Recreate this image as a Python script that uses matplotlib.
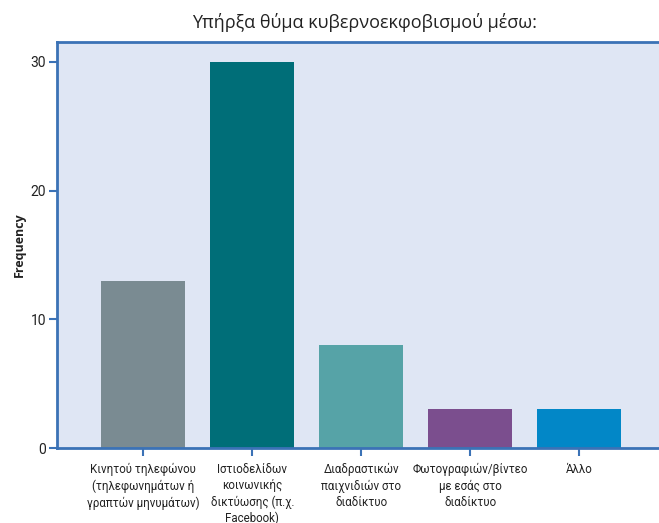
import matplotlib.pyplot as plt
import numpy as np

# data
categories = ["Κινητού τηλεφώνου\n(τηλεφωνημάτων ή\nγραπτών μηνυμάτων)",
              "Ιστιοδελίδων\nκοινωνικής\nδικτύωσης (π.χ.\nFacebook)",
              "Διαδραστικών\nπαιχνιδιών στο\nδιαδίκτυο",
              "Φωτογραφιών/βίντεο\nμε εσάς στο\nδιαδίκτυο",
              "Άλλο"]
counts = [13, 30, 8, 3, 3]
bar_colors = ["#7a8b92", "#006e78", "#56a3a7", "#7b4e8e", "#0287c7"]
yticks = [0, 10, 20, 30]

spine_col = "#3b72b6"
lbl_font = ['Roboto', 'DejaVu Sans']

fig = plt.figure(figsize=(6.59, 5.23), dpi=100)
ax = fig.add_axes([57/659, 1 - 448/523, (659-57)/659, (448-42)/523])
ax.set_facecolor("#dfe6f4")

x = np.arange(len(counts))
ax.bar(x, counts, width=0.77, color=bar_colors, zorder=2)

ax.set_xlim(-0.79, 4.73)
ax.set_ylim(0, 31.55)
ax.set_yticks(yticks)
ax.set_xticks(x)
ax.set_xticklabels(categories, family=lbl_font, fontsize=8.3, linespacing=1.3, va='top')

ax.spines['right'].set_visible(False)
for s in ['left', 'top', 'bottom']:
    ax.spines[s].set_color(spine_col)
    ax.spines[s].set_linewidth(2)

ax.tick_params(axis='both', colors=spine_col, width=1.5, length=6)
ax.tick_params(axis='y', labelcolor='#222222', labelsize=10, pad=2)
ax.tick_params(axis='x', labelcolor='#222222', pad=5)
for lbl in ax.get_yticklabels():
    lbl.set_family(lbl_font)

fig.text(19/659, 1 - 245/523, "Frequency", rotation=90, ha='center', va='center',
         fontsize=9, fontweight='bold', family=['Open Sans', 'DejaVu Sans'], color='#222222')

fig.text(365/659, 1 - 22/523, "Υπήρξα θύμα κυβερνοεκφοβισμού μέσω:", ha='center', va='center',
         fontsize=13, family=['Open Sans', 'DejaVu Sans'], color='#222222')

fig.savefig("out.png", dpi=100)
